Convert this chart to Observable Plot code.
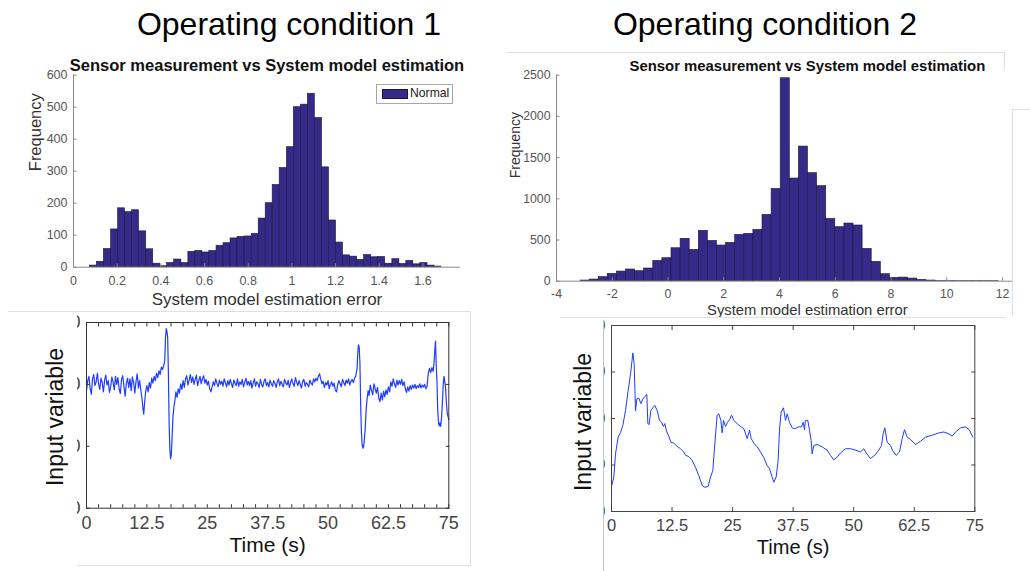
<!DOCTYPE html>
<html>
<head>
<meta charset="utf-8">
<script src="https://cdn.jsdelivr.net/npm/d3@7"></script>
<script src="https://cdn.jsdelivr.net/npm/@observablehq/plot@0.6"></script>
<style>
  body { margin: 0; background: #fff; }
  #page { position: relative; width: 1030px; height: 571px; overflow: hidden; background: #fff;
          font-family: "Liberation Sans", Arial, Helvetica, sans-serif; }
  #page svg { max-width: none; }
  .line { position: absolute; border: 0 solid #e0e0e0; box-sizing: border-box; }
</style>
</head>
<body>
<div id="page"></div>
<script>
// ---------------- DATA ----------------
const pageTitles = ["Operating condition 1", "Operating condition 2"];
const histTitle = "Sensor measurement vs System model estimation";
const histXLabel = "System model estimation error";
const histYLabel = "Frequency";
const legendLabel = "Normal";
const lineXLabel = "Time (s)";
const lineYLabel = "Input variable";

// Panel 1: histogram, operating condition 1
const edges1 = [0.075,0.107,0.139,0.172,0.204,0.236,0.268,0.300,0.333,0.365,
                0.397,0.429,0.461,0.494,0.526,0.558,0.590,0.622,0.655,0.687,
                0.719,0.751,0.783,0.816,0.848,0.880,0.912,0.944,0.977,1.009,
                1.041,1.073,1.105,1.138,1.170,1.202,1.234,1.266,1.299,1.331,
                1.363,1.395,1.427,1.460,1.492,1.524,1.556,1.588,1.621,1.653,1.685];
const counts1 = [5,17,57,118,184,172,178,112,56,11,
                 3,13,24,13,48,51,46,51,67,75,
                 90,95,96,104,152,200,257,310,375,500,
                 508,542,466,312,146,77,37,33,23,38,
                 31,32,11,25,10,20,9,13,5,2];
const xDomain1 = [0, 1.772];
const yDomain1 = [0, 600];
const xTicks1 = [0,0.2,0.4,0.6,0.8,1,1.2,1.4,1.6];
const yTicks1 = [0,100,200,300,400,500,600];

// Panel 2: histogram, operating condition 2
const edges2 = [-3.140,-2.814,-2.487,-2.161,-1.834,-1.508,-1.181,-0.855,-0.528,-0.202,
                0.125,0.452,0.778,1.105,1.431,1.758,2.084,2.411,2.737,3.064,
                3.390,3.717,4.043,4.370,4.696,5.023,5.349,5.676,6.002,6.329,
                6.655,6.982,7.308,7.635,7.961,8.288,8.614,8.941,9.267,9.594,
                9.920,10.247,10.573,10.900,11.226,11.553,11.879];
const counts2 = [8,20,49,89,117,142,121,154,247,279,
                 400,514,380,611,489,433,465,562,574,623,
                 805,1120,2463,1246,1634,1311,1153,756,655,700,
                 676,392,235,85,40,44,32,16,8,3,
                 2,1,1,1,1,1];
const xDomain2 = [-4, 14];
const yDomain2 = [0, 2500];
const xTicks2 = [-4,-2,0,2,4,6,8,10,12];
const yTicks2 = [0,500,1000,1500,2000,2500];

// Panel 3: input variable, operating condition 1  ([time s, value])
const series3 = [
  [0,19.0],[0.25,20.6],[0.5,21.3],[0.75,19.4],[1.0,18.4],[1.25,20.9],[1.5,21.6],[1.75,19.8],
  [2.0,20.4],[2.25,21.8],[2.5,20.1],[2.75,19.2],[3.0,21.0],[3.25,20.3],[3.5,18.8],[3.75,20.7],
  [4.0,21.5],[4.25,19.9],[4.5,20.6],[4.75,18.7],[5.0,19.6],[5.25,21.2],[5.5,20.4],[5.75,19.1],
  [6.0,21.3],[6.25,20.0],[6.5,21.1],[6.75,19.3],[7.0,18.5],[7.25,20.8],[7.5,21.4],[7.75,19.7],
  [8.0,18.1],[8.25,20.2],[8.5,21.0],[8.75,19.5],[9.0,20.9],[9.25,19.0],[9.5,21.2],[9.75,20.3],
  [10.0,18.6],[10.25,20.5],[10.5,21.7],[10.75,19.4],[11.0,20.6],[11.25,19.1],
  [11.5,17.6],[11.7,16.0],[11.85,15.2],[12.0,16.8],[12.25,18.9],[12.5,19.8],[12.75,18.8],
  [13.0,20.3],[13.25,19.4],[13.5,21.0],[13.75,20.2],[14.0,21.3],[14.25,20.6],[14.5,21.8],
  [14.75,21.1],[15.0,22.2],[15.25,21.6],[15.5,22.8],[15.75,22.4],[16.0,23.1],[16.2,23.8],
  [16.35,27.5],[16.5,29.0],[16.65,28.6],[16.8,27.6],[16.95,22.0],[17.1,14.0],[17.25,9.5],
  [17.4,8.0],[17.55,8.6],[17.7,11.0],[17.9,14.8],[18.1,16.4],[18.3,17.4],[18.5,18.8],
  [18.75,17.9],[19.0,19.3],[19.25,18.6],[19.5,20.1],[19.75,19.2],
  [20.0,20.6],[20.25,19.5],[20.5,20.9],[20.75,21.4],[21.0,19.9],[21.25,20.7],[21.5,21.6],[21.75,20.3],
  [22.0,21.2],[22.25,20.0],[22.5,20.8],[22.75,21.5],[23.0,19.8],[23.25,20.6],[23.5,21.3],[23.75,20.1],
  [24.0,20.9],[24.25,21.4],[24.5,20.2],[24.75,20.8],[25.0,19.9],[25.25,20.5],[25.5,19.3],[25.75,18.8],
  [26.0,19.6],[26.25,20.4],[26.5,19.8],[26.75,20.9],[27.0,20.2],[27.25,19.6],[27.5,20.7],[27.75,20.0],
  [28.0,20.5],[28.25,19.7],[28.5,20.9],[28.75,20.3],[29.0,19.6],[29.25,20.6],[29.5,19.9],[29.75,20.8],
  [30.0,20.1],[30.25,19.5],[30.5,20.7],[30.75,20.2],[31.0,19.8],[31.25,20.9],[31.5,19.7],[31.75,20.4],
  [32.0,20.0],[32.25,20.8],[32.5,19.6],[32.75,20.3],[33.0,21.0],[33.25,19.9],[33.5,20.5],[33.75,19.8],
  [34.0,20.6],[34.25,19.4],[34.5,20.2],[34.75,20.9],[35.0,19.7],[35.25,20.4],[35.5,20.1],[35.75,19.5],
  [36.0,20.8],[36.25,20.0],[36.5,19.6],[36.75,20.5],[37.0,20.9],[37.25,19.8],[37.5,20.3],[37.75,19.6],
  [38.0,20.7],[38.25,20.1],[38.5,19.7],[38.75,20.6],[39.0,20.2],[39.25,19.5],[39.5,20.4],[39.75,20.9],
  [40.0,19.8],[40.25,20.5],[40.5,20.0],[40.75,19.6],[41.0,20.8],[41.25,20.2],[41.5,19.9],[41.75,20.7],
  [42.0,19.5],[42.25,20.3],[42.5,20.9],[42.75,20.1],[43.0,19.7],[43.25,21.1],[43.5,20.4],[43.75,19.8],
  [44.0,20.6],[44.25,20.0],[44.5,19.4],[44.75,20.5],[45.0,20.8],[45.25,19.7],[45.5,20.3],[45.75,20.0],
  [46.0,19.6],[46.25,20.7],[46.5,20.2],[46.75,19.9],[47.0,20.9],[47.25,20.4],[47.5,21.0],[47.75,20.6],
  [48.0,21.3],[48.25,21.7],[48.5,20.8],[48.75,20.1],[49.0,20.5],[49.25,19.5],[49.5,20.3],[49.75,19.9],
  [50.0,20.6],[50.25,19.3],[50.5,20.0],[50.75,20.4],[51.0,19.7],[51.25,20.2],[51.5,19.1],[51.75,18.8],
  [52.0,19.9],[52.25,20.6],[52.5,20.1],[52.75,19.6],[53.0,20.8],[53.25,20.3],[53.5,19.8],[53.75,20.7],
  [54.0,20.2],[54.25,20.9],[54.5,19.9],[54.75,20.5],[55.0,20.8],[55.25,20.3],[55.5,21.0],[55.75,21.4],
  [56.0,22.5],[56.15,25.0],[56.3,26.4],[56.45,26.0],[56.6,23.5],[56.75,17.0],[56.9,12.5],[57.05,10.4],
  [57.2,9.7],[57.35,9.9],[57.5,10.8],[57.7,13.0],[57.9,16.0],[58.1,17.8],[58.3,19.0],[58.5,18.2],
  [58.75,19.9],[59.0,19.0],[59.25,18.3],[59.5,20.1],[59.75,19.3],
  [60.0,18.6],[60.25,19.5],[60.5,17.8],[60.75,17.2],[61.0,18.6],[61.25,17.5],[61.5,18.9],[61.75,18.0],
  [62.0,19.1],[62.25,18.4],[62.5,19.6],[62.75,18.8],[63.0,20.4],[63.25,19.7],[63.5,20.9],[63.75,20.1],
  [64.0,19.5],[64.25,20.7],[64.5,19.9],[64.75,20.6],[65.0,20.0],[65.25,20.8],[65.5,19.8],[65.75,20.4],
  [66.0,19.3],[66.25,18.7],[66.5,19.6],[66.75,18.9],[67.0,19.8],[67.25,19.2],[67.5,19.9],[67.75,19.4],
  [68.0,20.0],[68.25,19.3],[68.5,19.8],[68.75,19.5],[69.0,20.1],[69.25,19.4],[69.5,19.9],[69.75,19.6],
  [70.0,20.0],[70.25,19.3],[70.5,19.7],
  [70.75,21.8],[71.0,22.6],[71.25,21.9],[71.5,22.7],[71.75,22.1],[71.95,23.5],[72.1,25.5],[72.25,27.0],
  [72.4,23.0],[72.55,20.5],[72.7,16.0],[72.85,14.0],[73.0,13.3],[73.15,13.8],[73.3,13.2],[73.5,14.6],
  [73.7,17.5],[73.85,20.0],[74.0,21.3],[74.15,20.5],[74.3,19.8],[74.5,17.0],[74.7,15.2],[74.85,14.8],
  [75.0,14.3]
];
const yDomain3 = [0, 30];
const yTicks3 = [0,10,20,30];

// Panel 4: input variable, operating condition 2
const time4 = [0.05,0.48,0.83,1.38,1.86,2.34,2.89,3.44,3.93,4.41,
               4.68,4.82,4.96,5.23,5.64,6.06,6.47,6.88,7.29,7.5,
               7.77,8.12,8.53,8.95,9.43,9.91,10.32,10.73,11.0,11.35,
               11.83,12.25,12.87,13.56,14.24,14.93,15.27,15.96,16.65,17.34,
               18.03,18.72,19.27,19.96,20.44,20.92,21.33,21.81,22.16,22.57,
               22.85,23.12,23.54,23.95,24.36,24.77,25.26,25.94,26.63,27.32,
               28.01,28.49,28.83,29.38,30.07,30.76,31.45,32.13,32.62,33.17,
               33.51,33.99,34.4,34.68,35.02,35.5,35.92,36.26,36.74,37.29,
               37.84,38.53,39.22,39.56,39.84,40.04,40.53,40.87,41.21,41.42,
               41.76,42.45,43.48,44.51,45.2,45.89,46.58,47.27,48.3,49.34,
               50.37,51.4,52.09,52.57,53.47,54.36,55.19,55.74,56.08,56.43,
               56.91,57.6,58.08,58.77,59.46,60.01,60.49,61.04,61.73,62.76,
               63.79,64.83,66.2,67.58,68.61,69.64,70.33,71.02,72.05,73.08,
               73.91,74.6];
const value4 = [5.6,7.4,12.4,16.0,17.0,18.5,21.7,26.0,29.6,34.1,
                31.8,26.7,21.6,24.2,24.4,23.2,24.2,24.7,25.2,18.9,
                18.7,21.7,22.3,22.8,21.7,19.6,19.2,18.3,18.9,17.3,
                16.2,14.9,14.7,14.0,13.5,12.8,12.1,11.8,11.0,9.5,
                7.7,5.6,5.2,5.4,7.4,8.8,14.6,20.7,21.0,19.6,
                16.9,19.6,18.3,19.2,19.7,20.7,19.6,18.9,18.3,17.8,
                15.7,17.5,15.7,14.7,13.9,12.8,11.6,9.9,9.2,7.4,
                6.3,7.4,11.0,17.5,21.4,22.3,19.6,21.0,19.2,18.0,
                17.8,18.2,18.2,19.2,17.6,19.6,19.6,17.5,15.3,12.4,
                14.2,14.4,13.9,13.2,12.1,11.1,11.7,12.6,13.5,13.5,
                13.2,12.8,13.5,12.6,11.4,12.1,13.2,14.2,16.7,18.0,
                14.9,14.2,13.0,12.1,12.8,15.7,17.6,16.0,15.5,14.4,
                15.1,16.0,16.4,16.9,17.1,16.7,16.2,17.1,18.0,18.2,
                17.5,16.0];
const yDomain4 = [0, 40];
const yTicks4 = [0,10,20,30,40];

const timeDomain = [0, 75];
const timeLabels = [0,12.5,25,37.5,50,62.5,75];
const timeMinor3 = [0,2.5,5,7.5,10,12.5,15,17.5,20,22.5,25,27.5,30,32.5,35,37.5,
                    40,42.5,45,47.5,50,52.5,55,57.5,60,62.5,65,67.5,70,72.5,75];

// ---------------- STYLE ----------------
const FONT = '"Liberation Sans", Arial, Helvetica, sans-serif';
const BAR = "#352a87";
const EDGE = "#1b1640";
const LINE = "#1f3cff";
const fmt = d => String(d);

const page = document.getElementById("page");
function place(el, left, top, extra = {}) {
  el.style.position = "absolute";
  el.style.left = left + "px";
  el.style.top = top + "px";
  Object.assign(el.style, extra);
  page.appendChild(el);
  return el;
}
function div(text, left, top, extra) {
  const d = document.createElement("div");
  d.textContent = text;
  return place(d, left, top, extra);
}
function rule(left, top, w, h, sides, color = "#e0e0e0") {
  const d = document.createElement("div");
  d.className = "line";
  const st = {width: w + "px", height: h + "px", borderColor: color};
  for (const s of sides) st["border" + s + "Width"] = "1px";
  return place(d, left, top, st);
}
function inward(ticksX, ticksY, len, color, sidesX, sidesY) {
  const m = [];
  for (const a of sidesX) m.push(Plot.axisX({anchor: a, ticks: ticksX, tickSize: len, dy: a === "bottom" ? -len : len, fill: "none", stroke: color, label: null}));
  for (const a of sidesY) m.push(Plot.axisY({anchor: a, ticks: ticksY, tickSize: len, dx: a === "left" ? len : -len, fill: "none", stroke: color, label: null}));
  return m;
}
const baseStyle = {fontFamily: FONT, background: "transparent", color: "#555", overflow: "visible"};

// ---------------- TITLES ----------------
div(pageTitles[0], 289 - 250, 8, {width: "500px", textAlign: "center", fontSize: "32px", lineHeight: "32px", color: "#000", fontFamily: FONT});
div(pageTitles[1], 765 - 250, 8, {width: "500px", textAlign: "center", fontSize: "32px", lineHeight: "32px", color: "#000", fontFamily: FONT});

// ---------------- PANEL 1 ----------------
const hist1 = counts1.map((c, i) => ({x1: edges1[i], x2: edges1[i + 1], count: c}));
const p1 = Plot.plot({
  width: 480, height: 260,
  marginLeft: 73, marginRight: 20, marginTop: 24.7, marginBottom: 43.3,
  style: baseStyle,
  x: {domain: xDomain1}, y: {domain: yDomain1},
  marks: [
    Plot.rectY(hist1, {x1: "x1", x2: "x2", y: "count", fill: BAR, stroke: EDGE, strokeWidth: 0.6, inset: 0}),
    Plot.ruleY([yDomain1[0]], {stroke: "#8a8a8a"}),
    Plot.ruleX([xDomain1[0]], {stroke: "#8a8a8a"}),
    ...inward(xTicks1, yTicks1, 3.5, "#8a8a8a", ["bottom"], ["left"]),
    Plot.axisX({ticks: xTicks1, tickSize: 0, tickPadding: 8.5, tickFormat: fmt, fontSize: 12.5, fill: "#555", label: null}),
    Plot.axisY({ticks: yTicks1, tickSize: 0, tickPadding: 6, tickFormat: fmt, fontSize: 12.5, fill: "#555", label: null}),
    Plot.text([histTitle], {text: d => d, frameAnchor: "top", lineAnchor: "middle", dy: -9.7, fontSize: 16.5, fontWeight: "bold", fill: "#111"}),
    Plot.text([histXLabel], {text: d => d, frameAnchor: "bottom", lineAnchor: "middle", dy: 32, fontSize: 17, fill: "#333"}),
    Plot.text([histYLabel], {text: d => d, frameAnchor: "left", lineAnchor: "middle", dx: -38, rotate: -90, fontSize: 16.5, fill: "#333"})
  ]
});
place(p1, 0, 50);

// legend
rule(376, 84, 77, 20, ["Top", "Right", "Bottom", "Left"], "#a8a8a8").style.background = "#fff";
const patch = document.createElement("div");
place(patch, 382, 89, {width: "26px", height: "10px", background: BAR, border: "0.6px solid " + EDGE, boxSizing: "border-box"});
div(legendLabel, 410, 86, {fontSize: "12.2px", lineHeight: "15px", color: "#222", fontFamily: FONT});

// ---------------- PANEL 2 ----------------
const hist2 = counts2.map((c, i) => ({x1: edges2[i], x2: edges2[i + 1], count: c}));
const p2 = Plot.plot({
  width: 570, height: 270,
  marginLeft: 66, marginRight: 2.25, marginTop: 24.7, marginBottom: 39.3,
  style: baseStyle,
  x: {domain: xDomain2}, y: {domain: yDomain2},
  marks: [
    Plot.rectY(hist2, {x1: "x1", x2: "x2", y: "count", fill: BAR, stroke: EDGE, strokeWidth: 0.6, inset: 0}),
    Plot.ruleY([yDomain2[0]], {stroke: "#8a8a8a"}),
    Plot.ruleX([xDomain2[0]], {stroke: "#8a8a8a"}),
    ...inward(xTicks2, yTicks2, 3.5, "#8a8a8a", ["bottom"], ["left"]),
    Plot.axisX({ticks: xTicks2, tickSize: 0, tickPadding: 8, tickFormat: fmt, fontSize: 12.3, fill: "#555", label: null}),
    Plot.axisY({ticks: yTicks2, tickSize: 0, tickPadding: 6, tickFormat: fmt, fontSize: 12.3, fill: "#555", label: null}),
    Plot.text([histTitle], {text: d => d, frameAnchor: "top", lineAnchor: "middle", dy: -8.7, fontSize: 14.9, fontWeight: "bold", fill: "#111"}),
    Plot.text([histXLabel], {text: d => d, frameAnchor: "bottom", lineAnchor: "middle", dy: 29.3, fontSize: 14.8, fill: "#333"}),
    Plot.text([histYLabel], {text: d => d, frameAnchor: "left", lineAnchor: "middle", dx: -41, rotate: -90, fontSize: 14, fill: "#333"})
  ]
});
place(p2, 490, 50, {clipPath: "inset(0px 48px 0px 0px)"});

// screenshot borders
rule(506, 52, 499, 18, ["Top", "Right"]);
rule(1012, 109, 18, 208, ["Top", "Left"]);
rule(560, 317, 445, 1, ["Top"]);

// ---------------- PANEL 3 ----------------
const line3 = series3.map(([t, v]) => ({t, v}));
const p3 = Plot.plot({
  width: 480, height: 271,
  marginLeft: 86, marginRight: 31.7, marginTop: 22, marginBottom: 63.3,
  style: {...baseStyle, color: "#333"},
  x: {domain: timeDomain}, y: {domain: yDomain3},
  marks: [
    Plot.line(line3, {x: "t", y: "v", stroke: LINE, strokeWidth: 1.2}),
    Plot.frame({stroke: "#333", strokeWidth: 1}),
    ...inward(timeMinor3, yTicks3, 3.5, "#333", ["bottom", "top"], ["left", "right"]),
    Plot.axisX({ticks: timeLabels, tickSize: 0, tickPadding: 7.6, tickFormat: fmt, fontSize: 18, fill: "#444", label: null}),
    Plot.axisY({ticks: yTicks3, tickSize: 0, tickPadding: 6, tickFormat: fmt, fontSize: 18, fill: "#444", label: null}),
    Plot.text([lineXLabel], {text: d => d, frameAnchor: "bottom", lineAnchor: "middle", dy: 37.3, fontSize: 21, fill: "#111"})
  ]
});
place(p3, 0, 300, {clipPath: "inset(11px 10px 6px 77px)"});
rule(8, 311, 463, 255, ["Top", "Right"]);
rule(77, 565, 394, 1, ["Top"]);
div(lineYLabel, 55 - 120, 417 - 15, {width: "240px", height: "30px", lineHeight: "30px", textAlign: "center", fontSize: "23px", color: "#111", transform: "rotate(-90deg)", fontFamily: FONT});

// ---------------- PANEL 4 ----------------
const line4 = time4.map((t, i) => ({t, v: value4[i]}));
const p4 = Plot.plot({
  width: 470, height: 261,
  marginLeft: 51, marginRight: 55.7, marginTop: 15, marginBottom: 60,
  style: {...baseStyle, color: "#444"},
  x: {domain: timeDomain}, y: {domain: yDomain4},
  marks: [
    Plot.line(line4, {x: "t", y: "v", stroke: LINE, strokeWidth: 1}),
    Plot.frame({stroke: "#444", strokeWidth: 1}),
    ...inward(timeLabels, yTicks4, 4, "#444", ["bottom", "top"], ["left", "right"]),
    Plot.axisX({ticks: timeLabels, tickSize: 0, tickPadding: 8.1, tickFormat: fmt, fontSize: 16.5, fill: "#444", label: null}),
    Plot.axisY({ticks: yTicks4, tickSize: 0, tickPadding: 6, tickFormat: fmt, fontSize: 16.5, fill: "#444", label: null}),
    Plot.text([lineXLabel], {text: d => d, frameAnchor: "bottom", lineAnchor: "middle", dy: 36.3, fontSize: 20, fill: "#111"})
  ]
});
place(p4, 560, 310, {clipPath: "inset(0px 0px 0px 43px)"});
rule(603, 320, 1, 251, ["Left"], "#c4c4c4");
div(lineYLabel, 583 - 120, 421.7 - 15, {width: "240px", height: "30px", lineHeight: "30px", textAlign: "center", fontSize: "23px", color: "#111", transform: "rotate(-90deg)", fontFamily: FONT});
</script>
</body>
</html>
